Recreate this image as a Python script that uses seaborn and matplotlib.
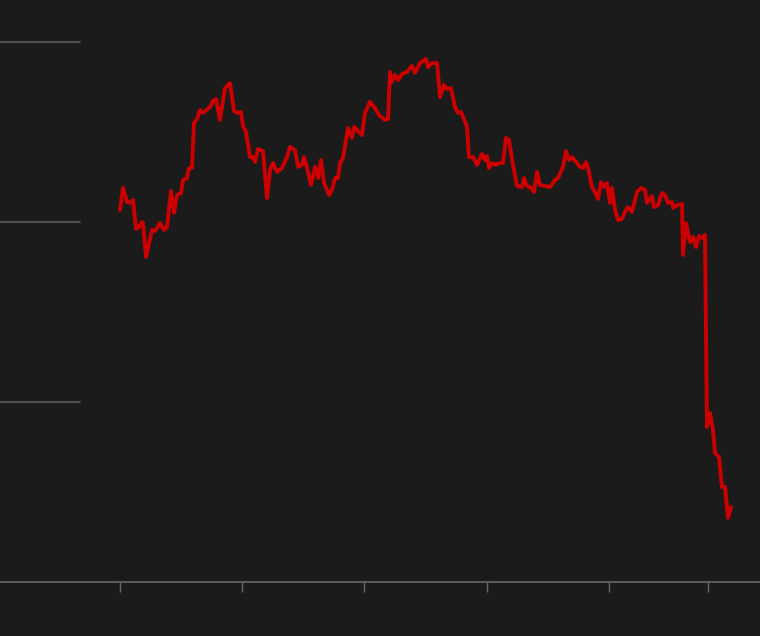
import pandas as pd
import matplotlib
matplotlib.use('Agg')
import matplotlib.pyplot as plt
import seaborn as sns

# days since start of series, and price level
days = [0, 9, 21, 30, 39, 48, 57, 66, 69, 78, 96, 105, 120, 132, 141, 153, 162, 171, 183, 189,
        201, 207, 216, 222, 231, 240, 249, 270, 279, 288, 300, 315, 330, 342, 351, 363, 369, 378, 390, 399,
        405, 414, 429, 441, 450, 459, 471, 486, 501, 510, 519, 525, 534, 546, 552, 561, 573, 585, 594, 603,
        612, 627, 636, 645, 654, 660, 669, 684, 696, 702, 711, 726, 735, 750, 765, 777, 795, 804, 810, 816,
        825, 834, 846, 861, 876, 885, 900, 918, 924, 936, 951, 960, 972, 981, 993, 1005, 1014, 1023, 1032, 1041,
        1047, 1059, 1071, 1086, 1095, 1101, 1107, 1116, 1125, 1140, 1149, 1158, 1167, 1179, 1191, 1206, 1212, 1221, 1230, 1242,
        1251, 1260, 1275, 1290, 1305, 1314, 1329, 1338, 1347, 1356, 1371, 1380, 1389, 1398, 1404, 1416, 1425, 1434, 1443, 1452,
        1461, 1470, 1476, 1485, 1494, 1506, 1515, 1524, 1536, 1551, 1563, 1575, 1581, 1596, 1602, 1614, 1626, 1635, 1644, 1656,
        1659, 1671, 1686, 1689, 1698, 1710, 1719, 1728, 1737, 1746, 1755, 1761, 1770, 1779, 1785, 1797, 1806, 1815, 1824, 1833]
price = [20.67, 21.89, 21.11, 21.06, 21.22, 19.61, 19.72, 20.0, 19.94, 18.06, 19.56, 19.5, 19.94, 19.56, 19.72, 21.72, 20.5, 21.5, 21.61, 22.33,
         22.44, 23.0, 23.0, 25.5, 25.72, 26.22, 26.06, 26.39, 26.72, 26.83, 25.67, 27.44, 27.72, 26.17, 26.06, 26.11, 25.33, 25.0, 23.61, 23.61,
         23.33, 24.06, 23.94, 21.33, 22.89, 23.28, 22.78, 23.0, 23.61, 24.17, 24.06, 24.0, 23.06, 23.17, 23.61, 23.0, 22.06, 23.06, 22.44, 23.44,
         22.17, 21.5, 21.78, 22.44, 22.44, 23.28, 23.56, 25.22, 24.67, 25.28, 25.11, 24.83, 26.06, 26.67, 26.33, 25.94, 25.67, 25.72, 28.33, 27.78,
         28.17, 27.89, 28.22, 28.33, 28.67, 28.28, 28.83, 29.06, 28.61, 28.83, 28.83, 26.94, 27.61, 27.39, 27.44, 26.39, 26.06, 26.11, 25.72, 25.28,
         23.61, 23.61, 23.17, 23.78, 23.44, 23.67, 23.0, 23.28, 23.17, 23.28, 23.28, 24.67, 24.56, 23.17, 22.0, 21.94, 22.44, 22.0, 21.94, 21.67,
         22.78, 22.06, 22.0, 21.94, 22.33, 22.44, 23.06, 23.94, 23.44, 23.61, 23.28, 23.06, 23.0, 23.33, 23.0, 21.94, 21.67, 21.28, 22.22, 21.94,
         22.17, 21.06, 21.89, 20.67, 20.11, 20.17, 20.56, 20.83, 20.56, 21.67, 21.89, 21.78, 21.06, 21.44, 20.83, 20.94, 21.61, 21.5, 21.06, 21.11,
         20.78, 20.94, 21.0, 18.17, 19.94, 18.89, 19.17, 18.61, 19.22, 19.11, 19.28, 8.61, 9.39, 8.44, 7.17, 6.94, 5.28, 5.28, 3.56, 4.17]

grid_values = [10, 20, 30]
tick_days = [0, 366, 732, 1101, 1467, 1764]

df = pd.DataFrame({'day': days, 'price': price})

bg = '#1b1b1b'
sns.set_style('dark', {'axes.facecolor': bg, 'figure.facecolor': bg})

fig = plt.figure(figsize=(7.6, 6.36), dpi=100)
ax = fig.add_axes([0, 54 / 636, 1, 582 / 636])

# short reference lines on the left only
for g in grid_values:
    ax.axhline(g, xmin=0, xmax=80 / 760, color='#5a5a5a', linewidth=1.2, zorder=1)

sns.lineplot(data=df, x='day', y='price', ax=ax, color='#cc0000', linewidth=2.8, zorder=3,
             solid_joinstyle='round', solid_capstyle='round')

ax.set_xlim(-360, 1920)
ax.set_ylim(0, 582 / 18)
ax.set_xticks(tick_days)
ax.set_xticklabels([])
ax.set_yticks([])
ax.set_xlabel('')
ax.set_ylabel('')
ax.tick_params(axis='x', direction='out', length=7.5, width=1, color='#666666', bottom=True)

for side in ['top', 'right', 'left']:
    ax.spines[side].set_visible(False)
ax.spines['bottom'].set_visible(True)
ax.spines['bottom'].set_color('#666666')
ax.spines['bottom'].set_linewidth(1.2)

fig.savefig('out.png', dpi=100, facecolor=bg)
